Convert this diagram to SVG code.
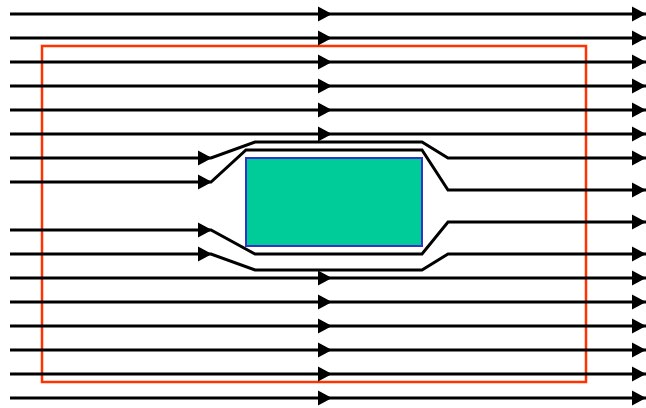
<svg xmlns="http://www.w3.org/2000/svg" xmlns:xlink="http://www.w3.org/1999/xlink" width="646" height="408" viewBox="0 0 646 408">
  <style>
    .flow { fill: none; stroke: #000; stroke-width: 3; stroke-linejoin: miter; marker-end: url(#endArrow); }
    .head { fill: #000; }
    .boundary { fill: none; stroke: #FF3300; stroke-width: 2.5; }
    .body { fill: #00CC99; stroke: #3333CC; stroke-width: 2; }
  </style>
  <defs>
    <marker id="endArrow" markerUnits="userSpaceOnUse" markerWidth="14" markerHeight="16" refX="14" refY="8" orient="auto">
      <path d="M0,0.5 L14,8 L0,15.5 Z" fill="#000"/>
    </marker>
    <polygon id="tri" class="head" points="-14,-7.5 0,0 -14,7.5"/>
  </defs>
  <rect width="646" height="408" fill="#fff"/>

  <g id="control-volume">
    <rect class="boundary" x="42" y="46" width="544" height="336"/>
  </g>

  <g id="body">
    <rect class="body" x="246" y="158" width="176" height="88"/>
  </g>

  <g id="connectors">
    <line class="flow" x1="10" y1="14" x2="646" y2="14"/>
    <line class="flow" x1="10" y1="38" x2="646" y2="38"/>
    <line class="flow" x1="10" y1="62" x2="646" y2="62"/>
    <line class="flow" x1="10" y1="86" x2="646" y2="86"/>
    <line class="flow" x1="10" y1="110" x2="646" y2="110"/>
    <line class="flow" x1="10" y1="134" x2="646" y2="134"/>
    <polyline class="flow" points="10,158 211,158 255,142 422,142 448,158 646,158"/>
    <polyline class="flow" points="10,182 211,182 246,150 422,150 448,190 646,190"/>
    <polyline class="flow" points="10,230 211,230 255,254 422,254 448,222 646,222"/>
    <polyline class="flow" points="10,254 211,254 255,270 422,270 448,254 646,254"/>
    <line class="flow" x1="10" y1="278" x2="646" y2="278"/>
    <line class="flow" x1="10" y1="302" x2="646" y2="302"/>
    <line class="flow" x1="10" y1="326" x2="646" y2="326"/>
    <line class="flow" x1="10" y1="350" x2="646" y2="350"/>
    <line class="flow" x1="10" y1="374" x2="646" y2="374"/>
    <line class="flow" x1="10" y1="398" x2="646" y2="398"/>

    <use xlink:href="#tri" x="332" y="14"/>
    <use xlink:href="#tri" x="332" y="38"/>
    <use xlink:href="#tri" x="332" y="62"/>
    <use xlink:href="#tri" x="332" y="86"/>
    <use xlink:href="#tri" x="332" y="110"/>
    <use xlink:href="#tri" x="332" y="134"/>
    <use xlink:href="#tri" x="212" y="158"/>
    <use xlink:href="#tri" x="212" y="182"/>
    <use xlink:href="#tri" x="212" y="230"/>
    <use xlink:href="#tri" x="212" y="254"/>
    <use xlink:href="#tri" x="332" y="278"/>
    <use xlink:href="#tri" x="332" y="302"/>
    <use xlink:href="#tri" x="332" y="326"/>
    <use xlink:href="#tri" x="332" y="350"/>
    <use xlink:href="#tri" x="332" y="374"/>
    <use xlink:href="#tri" x="332" y="398"/>
  </g>
</svg>
